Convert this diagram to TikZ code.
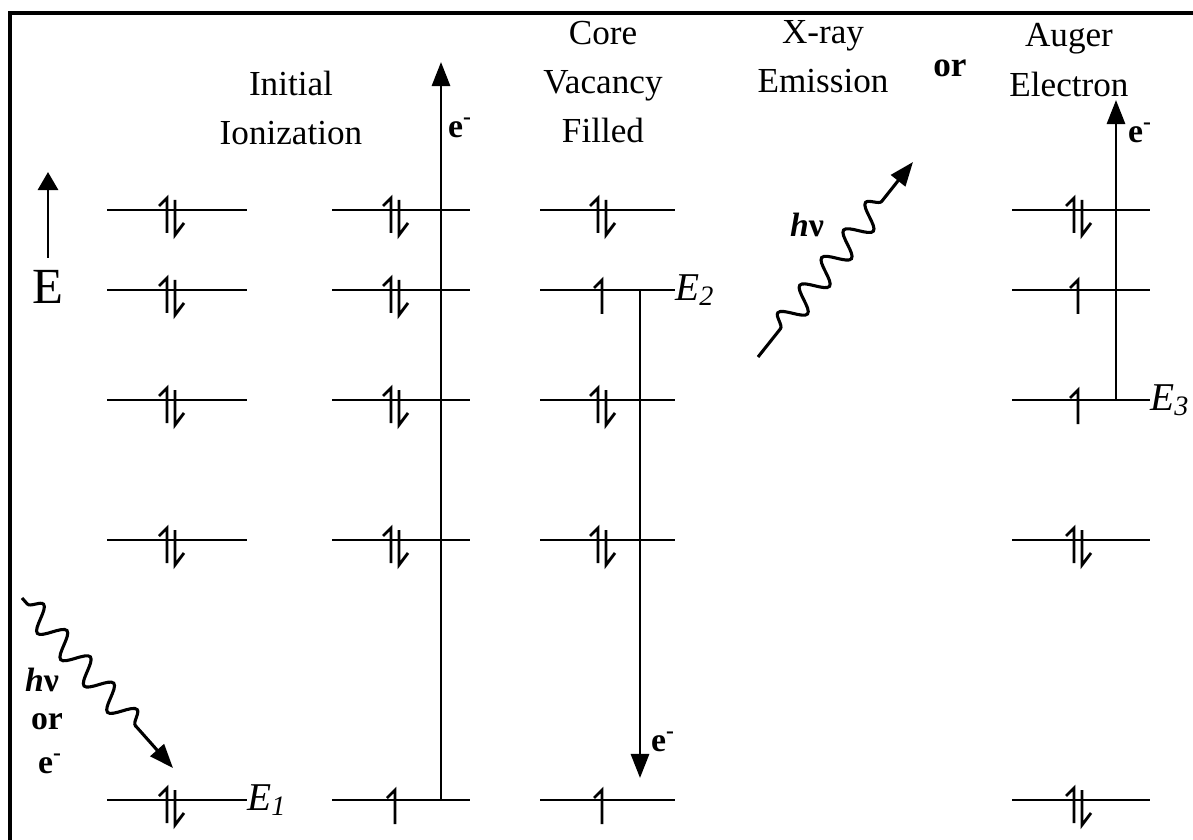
\documentclass[tikz,border=0pt]{standalone}
\usepackage{fontspec}
\setmainfont{Liberation Serif}
\usetikzlibrary{arrows.meta, decorations.pathmorphing}

\begin{document}
\begin{tikzpicture}[x=0.025cm, y=-0.025cm, >={Triangle[length=0.6cm,width=0.45cm]},
    nivel/.style={line width=2.1pt},
    espin/.style={line width=2pt},
    salto/.style={line width=2.1pt, ->},
    foton/.style={line width=2.2pt, ->, decorate,
        decoration={snake, amplitude=0.3cm, segment length=0.88cm, post length=1.1cm}},
    titulo/.style={align=center, inner sep=0pt, font=\fontsize{25}{35}\selectfont},
    etiq/.style={inner sep=0pt, font=\bfseries\fontsize{24}{30}\selectfont},
    energia/.style={anchor=west, inner sep=0pt, font=\itshape\fontsize{28}{30}\selectfont},
    pics/par/.style={code={
        \draw[espin] (-4,23) -- (-4,-12) -- (-12,-4);
        \draw[espin] (4,-10) -- (4,25) -- (13,13);}},
    pics/uno/.style={code={
        \draw[espin] (0,24) -- (0,-10) -- (-8,-2);}}]
    \useasboundingbox (0,0) rectangle (1193,840);

    % Marco (solo arriba e izquierda)
    \draw[line width=2.4pt] (1193,13) -- (10,13) -- (10,840);

    % Eje de energia
    \coordinate (E0) at (48,258);
    \coordinate (E1) at (48,172);
    \draw[salto, >={Triangle[length=0.45cm,width=0.5cm]}] (E0) -- (E1);
    \node[inner sep=0pt, font=\fontsize{36}{40}\selectfont] (Elab) at (48,287) {E};

    % Niveles: columna 1 (estado inicial)
    \foreach \y [count=\i] in {210,290,400,540,800} {
        \draw[nivel] (107,\y) -- (247,\y) coordinate (A\i);
        \pic at (171,\y) {par};
    }

    % Columna 2: ionizacion inicial
    \foreach \y [count=\i] in {210,290,400,540,800}
        \draw[nivel] (332,\y) -- (470,\y) coordinate (B\i);
    \foreach \y in {210,290,400,540}
        \pic at (395,\y) {par};
    \pic at (395,800) {uno};

    % Columna 3: vacante ocupada
    \foreach \y [count=\i] in {210,290,400,540,800}
        \draw[nivel] (540,\y) -- (675,\y) coordinate (C\i);
    \pic at (602,210) {par};
    \pic at (602,290) {uno};
    \pic at (602,400) {par};
    \pic at (602,540) {par};
    \pic at (602,800) {uno};

    % Columna 4: electron Auger
    \foreach \y [count=\i] in {210,290,400,540,800}
        \draw[nivel] (1012,\y) -- (1150,\y) coordinate (D\i);
    \pic at (1078,210) {par};
    \pic at (1078,290) {uno};
    \pic at (1078,400) {uno};
    \pic at (1078,540) {par};
    \pic at (1078,800) {par};

    % Energias de los niveles
    \node[energia] (En1) at (A5) {E\raisebox{-0.3ex}{\fontsize{20}{20}\selectfont 1}};
    \node[energia] (En2) at (C2) {E\raisebox{-0.3ex}{\fontsize{20}{20}\selectfont 2}};
    \node[energia] (En3) at (D3) {E\raisebox{-0.3ex}{\fontsize{20}{20}\selectfont 3}};

    % Saltos de electrones
    \coordinate (ion0) at (441,800);
    \coordinate (ion1) at (441,62);
    \draw[salto] (ion0) -- (ion1);
    \node[etiq] (eion) at (460,128) {e\textsuperscript{-}};

    \coordinate (core0) at (640,290);
    \coordinate (core1) at (640,778);
    \draw[salto] (core0) -- (core1);
    \node[etiq] (ecore) at (663,742) {e\textsuperscript{-}};

    \coordinate (aug0) at (1116,400);
    \coordinate (aug1) at (1116,100);
    \draw[salto] (aug0) -- (aug1);
    \node[etiq] (eaug) at (1140,133) {e\textsuperscript{-}};

    % Foton o electron incidente
    \coordinate (in0) at (22,598);
    \coordinate (in1) at (173,768);
    \draw[foton, decoration={pre length=0.2cm}] (in0) -- (in1);
    \node[etiq] (hv1) at (42,680) {\textit{h}ν};
    \node[etiq] (or1) at (47,722) {or};
    \node[etiq] (ein) at (50,764) {e\textsuperscript{-}};

    % Foton emitido (rayos X)
    \coordinate (xr0) at (758,357);
    \coordinate (xr1) at (913,162);
    \draw[foton, decoration={pre length=0.9cm, post length=0.9cm}] (xr0) -- (xr1);
    \node[etiq] (hv2) at (807,225) {\textit{h}ν};

    % Titulos
    \node[titulo] (ini) at (291,108) {Initial\\Ionization};
    \node[titulo] (core) at (603,82) {Core\\Vacancy\\Filled};
    \node[titulo] (xray) at (823,57) {X-ray\\Emission};
    \node[etiq, font=\bfseries\fontsize{25}{30}\selectfont] (or2) at (950,68) {or};
    \node[titulo] (aug) at (1069,60) {Auger\\Electron};
\end{tikzpicture}
\end{document}
